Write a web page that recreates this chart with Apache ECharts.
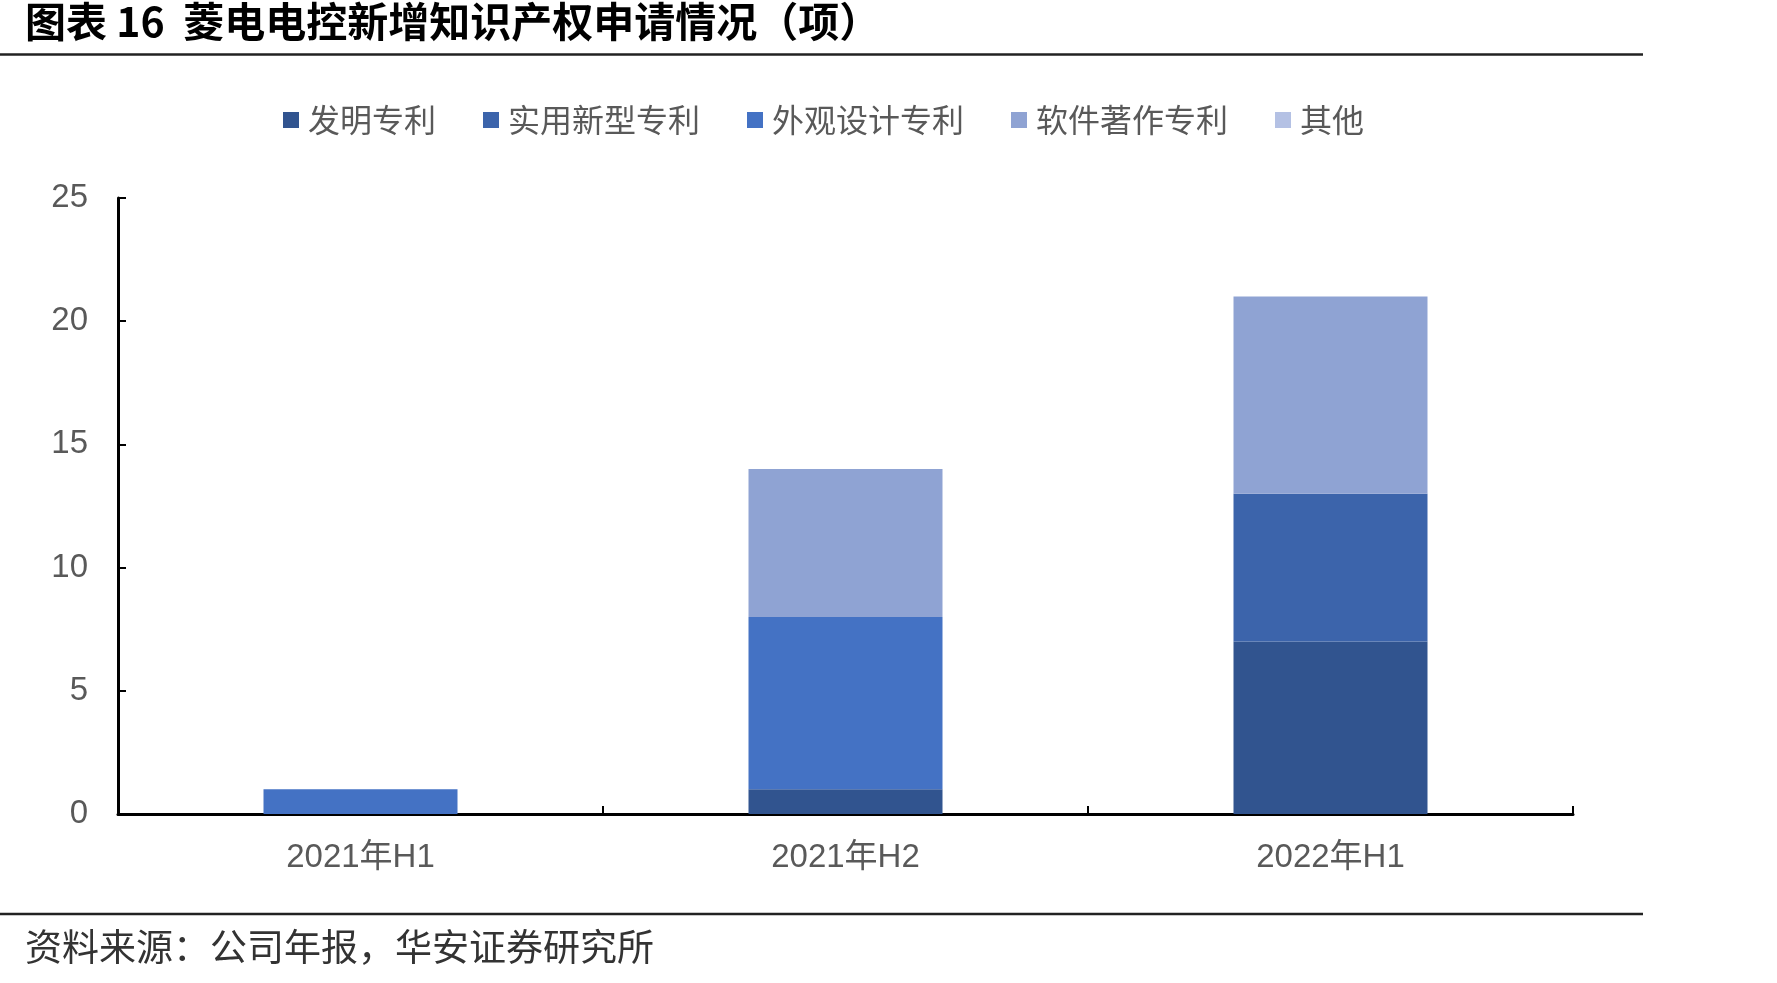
<!DOCTYPE html>
<html>
<head>
<meta charset="utf-8">
<script src="https://cdn.jsdelivr.net/npm/echarts@6/dist/echarts.min.js"></script>
<style>
html,body{margin:0;padding:0;background:#fff;}
#chart{width:1777px;height:983px;}
</style>
</head>
<body>
<div id="chart"></div>
<script>
var categories = ['2021年H1', '2021年H2', '2022年H1'];
var seriesNames = ['发明专利', '实用新型专利', '外观设计专利', '软件著作专利', '其他'];
var invention = [0, 1, 7];
var utilityModel = [0, 0, 6];
var design = [1, 7, 0];
var software = [0, 6, 8];
var others = [0, 0, 0];
var yTicks = [0, 5, 10, 15, 20, 25];
var titleText = '图表 16  菱电电控新增知识产权申请情况（项）';
var sourceText = '资料来源：公司年报，华安证券研究所';

var colors = ['#31548F', '#3C64AB', '#4472C4', '#8FA3D3', '#B4C1E4'];
var seriesData = [invention, utilityModel, design, software, others];
var FONT = '"Liberation Sans", Arial, "Noto Sans CJK SC", sans-serif';

var chart = echarts.init(document.getElementById('chart'));
chart.setOption({
  backgroundColor: '#ffffff',
  animation: false,
  color: colors,
  textStyle: { fontFamily: FONT },
  legend: {
    top: 99,
    left: 278,
    itemWidth: 16,
    itemHeight: 16,
    itemGap: 47,
    icon: 'rect',
    textStyle: { fontSize: 32, color: '#595959', fontFamily: '"Noto Sans CJK SC", sans-serif', padding: [0, 0, 0, 4] },
    data: seriesNames
  },
  grid: { left: 118, right: 204, top: 198, bottom: 169, containLabel: false },
  xAxis: {
    type: 'category',
    data: categories,
    boundaryGap: true,
    axisLine: { lineStyle: { color: '#000', width: 3 } },
    axisTick: { show: true, inside: true, length: 8, alignWithLabel: false, lineStyle: { color: '#000', width: 2 } },
    axisLabel: { fontSize: 33, color: '#595959', margin: 27, fontFamily: FONT }
  },
  yAxis: {
    type: 'value',
    min: yTicks[0],
    max: yTicks[yTicks.length - 1],
    interval: yTicks[1] - yTicks[0],
    splitLine: { show: false },
    axisLine: { show: true, lineStyle: { color: '#000', width: 3 } },
    axisTick: { show: true, inside: true, length: 8, lineStyle: { color: '#000', width: 2 } },
    axisLabel: { fontSize: 33, color: '#595959', margin: 30, fontFamily: FONT }
  },
  series: seriesNames.map(function (name, i) {
    return {
      name: name,
      type: 'bar',
      stack: 'total',
      barWidth: '40%',
      data: seriesData[i],
      itemStyle: { color: colors[i] }
    };
  }),
  graphic: [
    {
      type: 'text', left: 25, top: 1,
      style: { text: titleText, font: 'bold 41px "Noto Sans CJK SC", "Liberation Sans", sans-serif', fill: '#000' }
    },
    {
      type: 'line', shape: { x1: 0, y1: 54.5, x2: 1643, y2: 54.5 },
      style: { stroke: '#222', lineWidth: 2.5 }
    },
    {
      type: 'line', shape: { x1: 0, y1: 914, x2: 1643, y2: 914 },
      style: { stroke: '#222', lineWidth: 2.5 }
    },
    {
      type: 'text', left: 25, top: 928,
      style: { text: sourceText, font: '37px "Noto Sans CJK SC", sans-serif', fill: '#333' }
    }
  ]
});
</script>
</body>
</html>
